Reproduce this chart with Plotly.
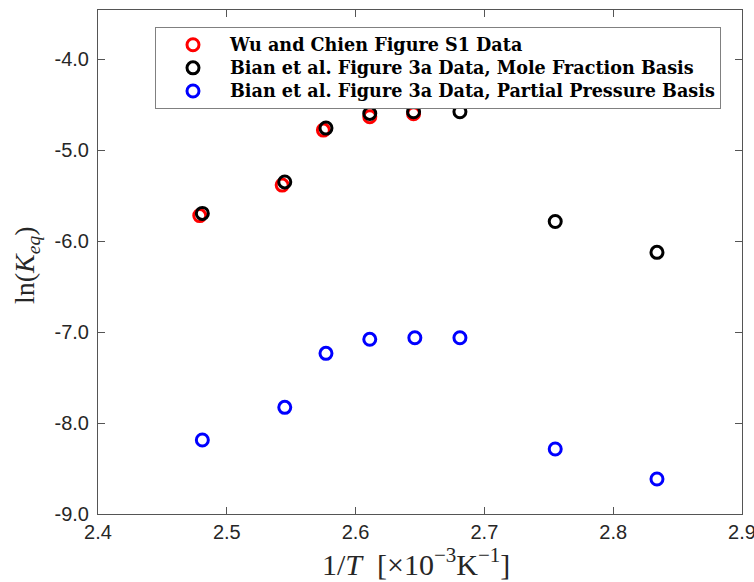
import plotly.graph_objects as go

# Data (1/T in 1e-3 K^-1, ln Keq)
wu_x = [2.479, 2.543, 2.575, 2.611, 2.645]
wu_y = [-5.72, -5.385, -4.78, -4.634, -4.60]

bian_mf_x = [2.481, 2.545, 2.577, 2.611, 2.645, 2.681, 2.755, 2.834]
bian_mf_y = [-5.696, -5.35, -4.758, -4.597, -4.579, -4.579, -5.785, -6.124]

bian_pp_x = [2.481, 2.545, 2.577, 2.611, 2.646, 2.681, 2.755, 2.834]
bian_pp_y = [-8.187, -7.828, -7.234, -7.08, -7.063, -7.063, -8.286, -8.615]

names = ["Wu and Chien Figure S1 Data",
         "Bian et al. Figure 3a Data, Mole Fraction Basis",
         "Bian et al. Figure 3a Data, Partial Pressure Basis"]
colors = ["#ff0000", "#000000", "#0000ff"]

x_ticks = [2.4, 2.5, 2.6, 2.7, 2.8, 2.9]
x_tick_text = ["2.4", "2.5", "2.6", "2.7", "2.8", "2.9"]
y_ticks = [-9, -8, -7, -6, -5, -4]
y_tick_text = ["-9.0", "-8.0", "-7.0", "-6.0", "-5.0", "-4.0"]

x_title = "1/<i>T</i>  [×10<sup>−3</sup>K<sup>−1</sup>]"
y_title = "ln(<i>K</i><sub><i>eq</i></sub>)"

fig = go.Figure()
for xs, ys, nm, c in [(wu_x, wu_y, names[0], colors[0]),
                      (bian_mf_x, bian_mf_y, names[1], colors[1]),
                      (bian_pp_x, bian_pp_y, names[2], colors[2])]:
    fig.add_trace(go.Scatter(
        x=xs, y=ys, mode="markers",
        name='<span style="font-size:17.6px"><b>' + nm + '</b></span>',
        marker=dict(symbol="circle-open", size=12, color=c,
                    line=dict(width=3, color=c))))

axis_common = dict(
    showline=True, linecolor="#555555", linewidth=1, mirror="ticks",
    ticks="inside", ticklen=7, tickcolor="#555555", showgrid=False,
    zeroline=False, automargin=False, ticklabeloverflow="allow",
    tickfont=dict(family="Liberation Sans, Arial", size=20, color="#262626"),
)

fig.update_layout(
    width=754, height=582,
    margin=dict(l=98, r=12, t=10, b=68),
    paper_bgcolor="white", plot_bgcolor="white",
    xaxis=dict(range=[2.39999, 2.90001], tickvals=x_ticks, ticktext=x_tick_text,
               **axis_common),
    yaxis=dict(range=[-9.0001, -3.46], tickvals=y_ticks, ticktext=y_tick_text,
               ticklabelstandoff=4, **axis_common),
    legend=dict(x=0.0885, y=0.966, xanchor="left", yanchor="top",
                bordercolor="#808080", borderwidth=1, bgcolor="white",
                font=dict(family="DejaVu Serif", size=15.5, color="#000000"),
                itemwidth=64, tracegroupgap=0),
    showlegend=True,
    annotations=[
        dict(text=x_title, xref="paper", yref="paper", x=0.4935, y=0,
             xanchor="center", yanchor="middle", yshift=-48, showarrow=False,
             font=dict(family="Liberation Serif, Times New Roman", size=30, color="#262626")),
        dict(text=y_title, xref="paper", yref="paper", x=0, y=0.5,
             xanchor="center", yanchor="middle", xshift=-72, yshift=-3,
             textangle=-90, showarrow=False,
             font=dict(family="Liberation Serif, Times New Roman", size=28, color="#262626")),
    ],
)

fig.write_html("out.html",
               config={"displayModeBar": False},
               post_script="document.body.style.margin='0';document.body.style.overflow='hidden';")
